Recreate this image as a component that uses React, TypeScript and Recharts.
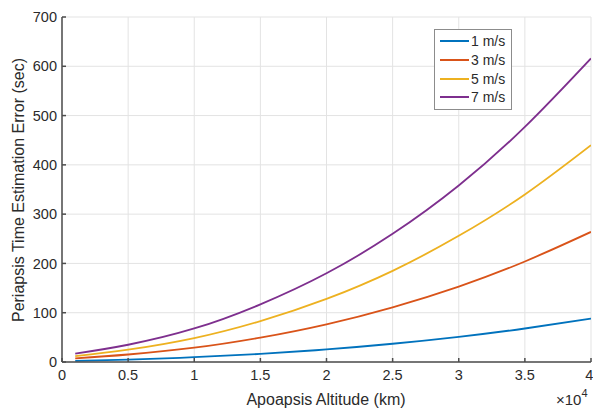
import React from 'react'
import { LineChart, Line, XAxis, YAxis, CartesianGrid } from 'recharts'

// apoapsis altitude, in units of 10^4 km
const altitude = [0.1, 0.5, 1, 1.5, 2, 2.5, 3, 3.5, 4]

// periapsis time estimation error (sec), per velocity error
const err1 = [2.4, 5.0, 9.7, 16.5, 25.5, 37, 51, 68, 88]
const err3 = [7.3, 15.2, 29, 49.5, 76.5, 111, 153, 204, 264]
const err5 = [12, 25, 48.5, 83, 128, 185, 256, 340, 440]
const err7 = [17, 35, 68, 117, 180, 260, 358, 477, 616]

const xTicks = [0, 0.5, 1, 1.5, 2, 2.5, 3, 3.5, 4]
const yTicks = [0, 100, 200, 300, 400, 500, 600, 700]

const series = [
  { key: 'v1', name: '1 m/s', color: '#0072BD' },
  { key: 'v3', name: '3 m/s', color: '#D95319' },
  { key: 'v5', name: '5 m/s', color: '#EDB120' },
  { key: 'v7', name: '7 m/s', color: '#7E2F8E' }
]

const data = altitude.map((x, i) => ({
  x,
  v1: err1[i],
  v3: err3[i],
  v5: err5[i],
  v7: err7[i]
}))

const FONT = '"Liberation Sans", Arial, sans-serif'
const TEXT = '#2b2b2b'
const AXIS = '#4d4d4d'

const LegendBox = () => (
  <div
    style={{
      position: 'absolute',
      left: 434,
      top: 29,
      border: '1px solid #8c8c8c',
      background: '#fff',
      padding: '2px 6px 2px 5px',
      fontFamily: FONT,
      fontSize: 14,
      color: TEXT
    }}
  >
    {series.map(s => (
      <div key={s.key} style={{ display: 'flex', alignItems: 'center', height: 18.7 }}>
        <div style={{ width: 29, height: 2, background: s.color, marginRight: 2 }} />
        <span>{s.name}</span>
      </div>
    ))}
  </div>
)

export default function App() {
  return (
    <div style={{ position: 'absolute', left: 0, top: 0, width: 593, height: 409, background: '#fff' }}>
      <LineChart
        width={593}
        height={409}
        data={data}
        margin={{ top: 17, right: 2, bottom: 22, left: 12 }}
      >
        <CartesianGrid stroke="#e3e3e3" strokeWidth={1} />
        <XAxis
          dataKey="x"
          type="number"
          domain={[0, 4]}
          ticks={xTicks}
          tickFormatter={(v: number) => String(v)}
          stroke={AXIS}
          strokeWidth={1.5}
          tickSize={-4}
          tickMargin={12}
          height={25}
          tick={{ fill: TEXT, fontSize: 14.5, fontFamily: FONT }}
          allowDataOverflow
        />
        <YAxis
          type="number"
          domain={[0, 700]}
          ticks={yTicks}
          stroke={AXIS}
          strokeWidth={1.5}
          tickSize={-4}
          tickMargin={9}
          width={50}
          tick={{ fill: TEXT, fontSize: 14.5, fontFamily: FONT }}
          allowDataOverflow
        />
        {series.map(s => (
          <Line
            key={s.key}
            type="natural"
            dataKey={s.key}
            name={s.name}
            stroke={s.color}
            strokeWidth={1.8}
            dot={false}
            isAnimationActive={false}
          />
        ))}
      </LineChart>
      <LegendBox />
      <div
        style={{
          position: 'absolute',
          left: 19,
          top: 190,
          transform: 'translate(-50%, -50%) rotate(-90deg)',
          whiteSpace: 'nowrap',
          fontFamily: FONT,
          fontSize: 16,
          color: TEXT
        }}
      >
        Periapsis Time Estimation Error (sec)
      </div>
      <div
        style={{
          position: 'absolute',
          left: 326,
          top: 400,
          transform: 'translate(-50%, -50%)',
          whiteSpace: 'nowrap',
          fontFamily: FONT,
          fontSize: 16,
          color: TEXT
        }}
      >
        Apoapsis Altitude (km)
      </div>
      <div
        style={{
          position: 'absolute',
          left: 556,
          top: 391,
          whiteSpace: 'nowrap',
          fontFamily: FONT,
          fontSize: 15,
          color: TEXT
        }}
      >
        ×10<sup style={{ fontSize: 11, verticalAlign: 'top', position: 'relative', top: -4 }}>4</sup>
      </div>
    </div>
  )
}
